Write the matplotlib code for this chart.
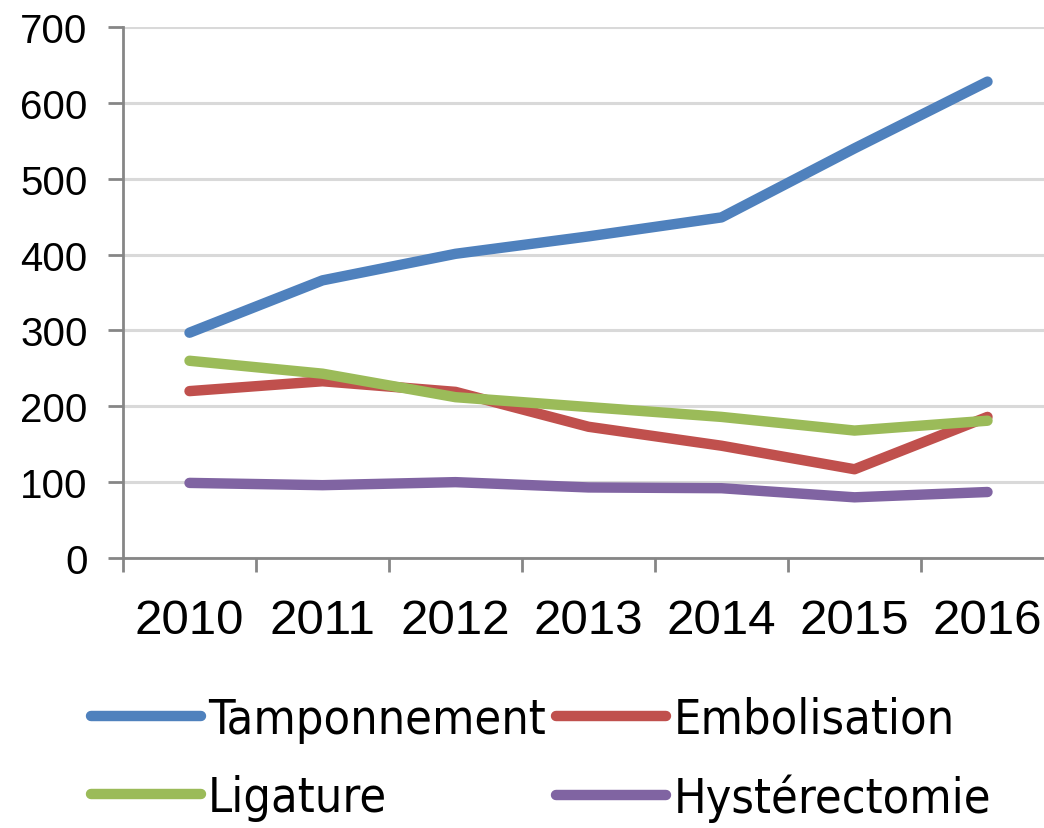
import matplotlib
matplotlib.use("Agg")
import matplotlib.pyplot as plt
from matplotlib import font_manager
from matplotlib.font_manager import FontProperties
from matplotlib.textpath import TextPath
import numpy as np

years = ["2010", "2011", "2012", "2013", "2014", "2015", "2016"]
tamponnement = [297, 366, 401, 424, 449, 540, 628]
embolisation = [220, 233, 219, 173, 148, 117, 186]
ligature = [260, 243, 212, 199, 186, 168, 181]
hysterectomie = [99, 96, 100, 93, 92, 80, 87]

# legend order row by row: Tamponnement, Embolisation / Ligature, Hystérectomie
series = [("Tamponnement", tamponnement, "#4F81BD"),
          ("Embolisation", embolisation, "#C0504D"),
          ("Ligature", ligature, "#9BBB59"),
          ("Hystérectomie", hysterectomie, "#8064A2")]

# look for a narrow font for the legend (the original uses a condensed face)
narrow = None
for pref in ["LiberationSansNarrow-Regular", "DejaVuSansCondensed.ttf"]:
    for f in font_manager.fontManager.ttflist:
        if pref in f.fname:
            narrow = f.fname
            break
    if narrow:
        break
if narrow:
    legprop = FontProperties(fname=narrow)
else:
    legprop = FontProperties(family="Liberation Sans")

# size the legend text so "Tamponnement" is about 337 px wide
w = TextPath((0, 0), "Tamponnement", size=100, prop=legprop).get_extents().width
legsize = 100 * 337 / w * 72 / 100
legprop.set_size(legsize)

plt.rcParams["font.family"] = ["Liberation Sans", "DejaVu Sans"]

fig = plt.figure(figsize=(10.44, 8.29), dpi=100)
ax = fig.add_axes([123 / 1044, 270 / 829, 931 / 1044, 531 / 829])

x = np.arange(len(years))
lines = {}
for name, vals, col in series:
    lines[name], = ax.plot(x, vals, color=col, lw=7.5, solid_capstyle="round",
                           solid_joinstyle="round", label=name, zorder=3)

ax.set_xlim(-0.5, len(years) - 0.5)
ax.set_ylim(0, 700)
ax.set_yticks(range(0, 701, 100))
ax.yaxis.grid(True, color="#D9D9D9", lw=2.2, zorder=0)
ax.set_axisbelow(True)

ax.set_xticks(x)
ax.set_xticklabels(years)
ax.set_xticks(np.arange(-0.5, len(years), 1), minor=True)
ax.tick_params(axis="x", which="major", length=0, pad=29, labelsize=35.5)
ax.tick_params(axis="x", which="minor", length=10, width=2, color="#868686")
ax.tick_params(axis="y", length=11, width=2, color="#868686", pad=14.5, labelsize=29)

for s in ["top", "right"]:
    ax.spines[s].set_visible(False)
for s in ["left", "bottom"]:
    ax.spines[s].set_color("#868686")
    ax.spines[s].set_linewidth(2)

order = ["Tamponnement", "Ligature", "Embolisation", "Hystérectomie"]
leg = fig.legend([lines[n] for n in order], order, loc="center",
                 bbox_to_anchor=(0.518, 0.083), ncol=2, frameon=False,
                 prop=legprop, handlelength=110 / (legsize * 100 / 72),
                 handletextpad=0.15, columnspacing=0.22, labelspacing=0.64)
for h in leg.get_lines():
    h.set_linewidth(7.5)

fig.savefig("out.png", dpi=100)
